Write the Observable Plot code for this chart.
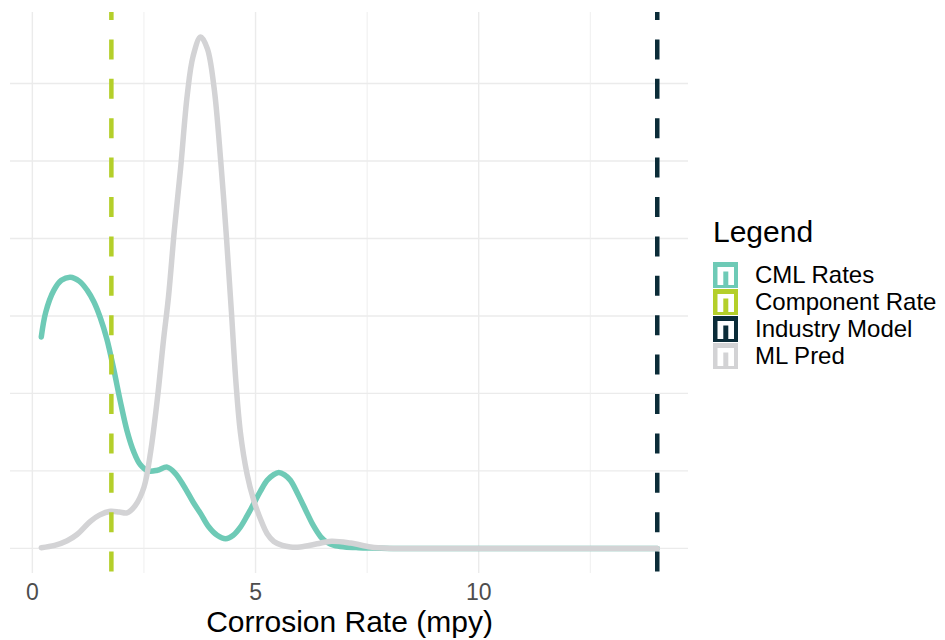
<!DOCTYPE html>
<html><head><meta charset="utf-8">
<script src="https://cdn.jsdelivr.net/npm/d3@7"></script>
<script src="https://cdn.jsdelivr.net/npm/@observablehq/plot@0.6"></script>
<style>
body{margin:0;background:#fff;font-family:"Liberation Sans",Arial,sans-serif;}
#wrap{position:relative;width:945px;height:640px;}
#wrap > svg{position:absolute;left:0;top:0;}
</style></head><body><div id="wrap"></div>
<script>
// ---- data ----
const seriesNames = ["CML Rates", "Component Rate", "Industry Model", "ML Pred"];
const seriesColors = ["#6ecab6", "#b4cf2a", "#0b2c38", "#d3d3d5"];

const cmlX = [0.2, 0.3, 0.48, 0.65, 0.85, 1.05, 1.23, 1.38, 1.52, 1.67, 1.82, 1.97, 2.12, 2.27, 2.42, 2.6, 2.8, 3.02, 3.2, 3.4, 3.6, 3.77, 3.95, 4.14, 4.33, 4.5, 4.66, 4.81, 4.96, 5.11, 5.26, 5.4, 5.52, 5.65, 5.78, 5.95, 6.16, 6.3, 6.46, 6.6, 6.76, 7.0, 7.3, 7.6, 8.0, 9.0, 14.0];
const cmlY = [0.273, 0.305, 0.333, 0.346, 0.35, 0.345, 0.333, 0.318, 0.298, 0.27, 0.232, 0.19, 0.152, 0.125, 0.108, 0.1, 0.101, 0.105, 0.097, 0.08, 0.06, 0.045, 0.028, 0.017, 0.0125, 0.017, 0.0275, 0.042, 0.058, 0.074, 0.088, 0.095, 0.098, 0.095, 0.088, 0.07, 0.045, 0.029, 0.015, 0.008, 0.004, 0.002, 0.001, 0.0005, 0.0001, 0, 0];

const mlX = [0.2, 0.5, 0.78, 1.0, 1.3, 1.5, 1.75, 1.95, 2.12, 2.3, 2.5, 2.65, 2.8, 2.94, 3.05, 3.18, 3.32, 3.47, 3.6, 3.77, 3.92, 4.07, 4.22, 4.35, 4.46, 4.56, 4.66, 4.81, 4.96, 5.11, 5.26, 5.41, 5.6, 5.78, 6.0, 6.38, 6.7, 7.13, 7.58, 7.96, 8.5, 14.0];
const mlY = [0.001, 0.004, 0.010, 0.018, 0.035, 0.043, 0.048, 0.047, 0.046, 0.055, 0.079, 0.125, 0.193, 0.27, 0.325, 0.41, 0.49, 0.585, 0.635, 0.66, 0.645, 0.595, 0.50, 0.40, 0.305, 0.215, 0.15, 0.096, 0.062, 0.038, 0.019, 0.009, 0.004, 0.002, 0.002, 0.006, 0.0094, 0.007, 0.002, 0.0003, 0, 0];

const refNames = ["Component Rate", "Industry Model"];
const refValues = [1.77, 14.0];

const xTicks = [0, 5, 10];
const xMinor = [2.5, 7.5, 12.5];
const yGrid = [0, 0.1, 0.2, 0.3, 0.4, 0.5, 0.6];
const xLabel = "Corrosion Rate (mpy)";
const legendTitle = "Legend";

// ---- build tables ----
const cml = cmlX.map((x, i) => ({x, y: cmlY[i], s: "CML Rates"}));
const ml = mlX.map((x, i) => ({x, y: mlY[i], s: "ML Pred"}));
const refs = refNames.map((n, i) => ({x: refValues[i], s: n}));

const chart = Plot.plot({
  width: 700, height: 640,
  marginLeft: 10, marginRight: 12, marginTop: 12, marginBottom: 67,
  x: {domain: [-0.49, 14.7]},
  y: {domain: [-0.0323, 0.6916], axis: null},
  color: {domain: seriesNames, range: seriesColors},
  style: {fontFamily: "'Liberation Sans', Arial, sans-serif", background: "white", overflow: "visible"},
  marks: [
    Plot.ruleY(yGrid, {stroke: "#ebebeb", strokeWidth: 1.3}),
    Plot.ruleX(xMinor, {stroke: "#ededed", strokeWidth: 0.9}),
    Plot.ruleX(xTicks, {stroke: "#ebebeb", strokeWidth: 1.4}),
    Plot.line(cml, {x: "x", y: "y", stroke: "s", strokeWidth: 5.5, curve: "catmull-rom", strokeLinecap: "round"}),
    Plot.line(ml, {x: "x", y: "y", stroke: "s", strokeWidth: 5.5, curve: "catmull-rom", strokeLinecap: "round"}),
    Plot.ruleX(refs, {x: "x", stroke: "s", strokeWidth: 4.5, strokeDasharray: "20,19.4", strokeDashoffset: 12}),
    Plot.axisX(xTicks, {tickSize: 0, tickPadding: 10, fontSize: 23, fill: "#4d4d4d", label: null}),
    Plot.text([xLabel], {frameAnchor: "bottom", dy: 58, fontSize: 30, fill: "black"})
  ]
});
document.getElementById("wrap").appendChild(chart);

// ---- legend ----
const ns = "http://www.w3.org/2000/svg";
const lg = document.createElementNS(ns, "svg");
lg.setAttribute("width", 945); lg.setAttribute("height", 640);
lg.style.position = "absolute"; lg.style.left = "0"; lg.style.top = "0"; lg.style.pointerEvents = "none";
let html = `<text x="713" y="242" font-size="30" fill="black" font-family="Liberation Sans, Arial, sans-serif">${legendTitle}</text>`;
seriesNames.forEach((n, i) => {
  const y0 = 262 + 27 * i;
  const c = seriesColors[i];
  html += `<rect x="713" y="${y0}" width="25" height="26" fill="${c}"/>`;
  html += `<rect x="717.5" y="${y0 + 5}" width="16.5" height="18" fill="white"/>`;
  html += `<rect x="723.3" y="${y0 + 9.5}" width="5" height="16.5" fill="${c}"/>`;
  html += `<text x="755" y="${y0 + 21}" font-size="24" fill="black" font-family="Liberation Sans, Arial, sans-serif">${n}</text>`;
});
lg.innerHTML = html;
document.getElementById("wrap").appendChild(lg);
</script>
</body></html>
